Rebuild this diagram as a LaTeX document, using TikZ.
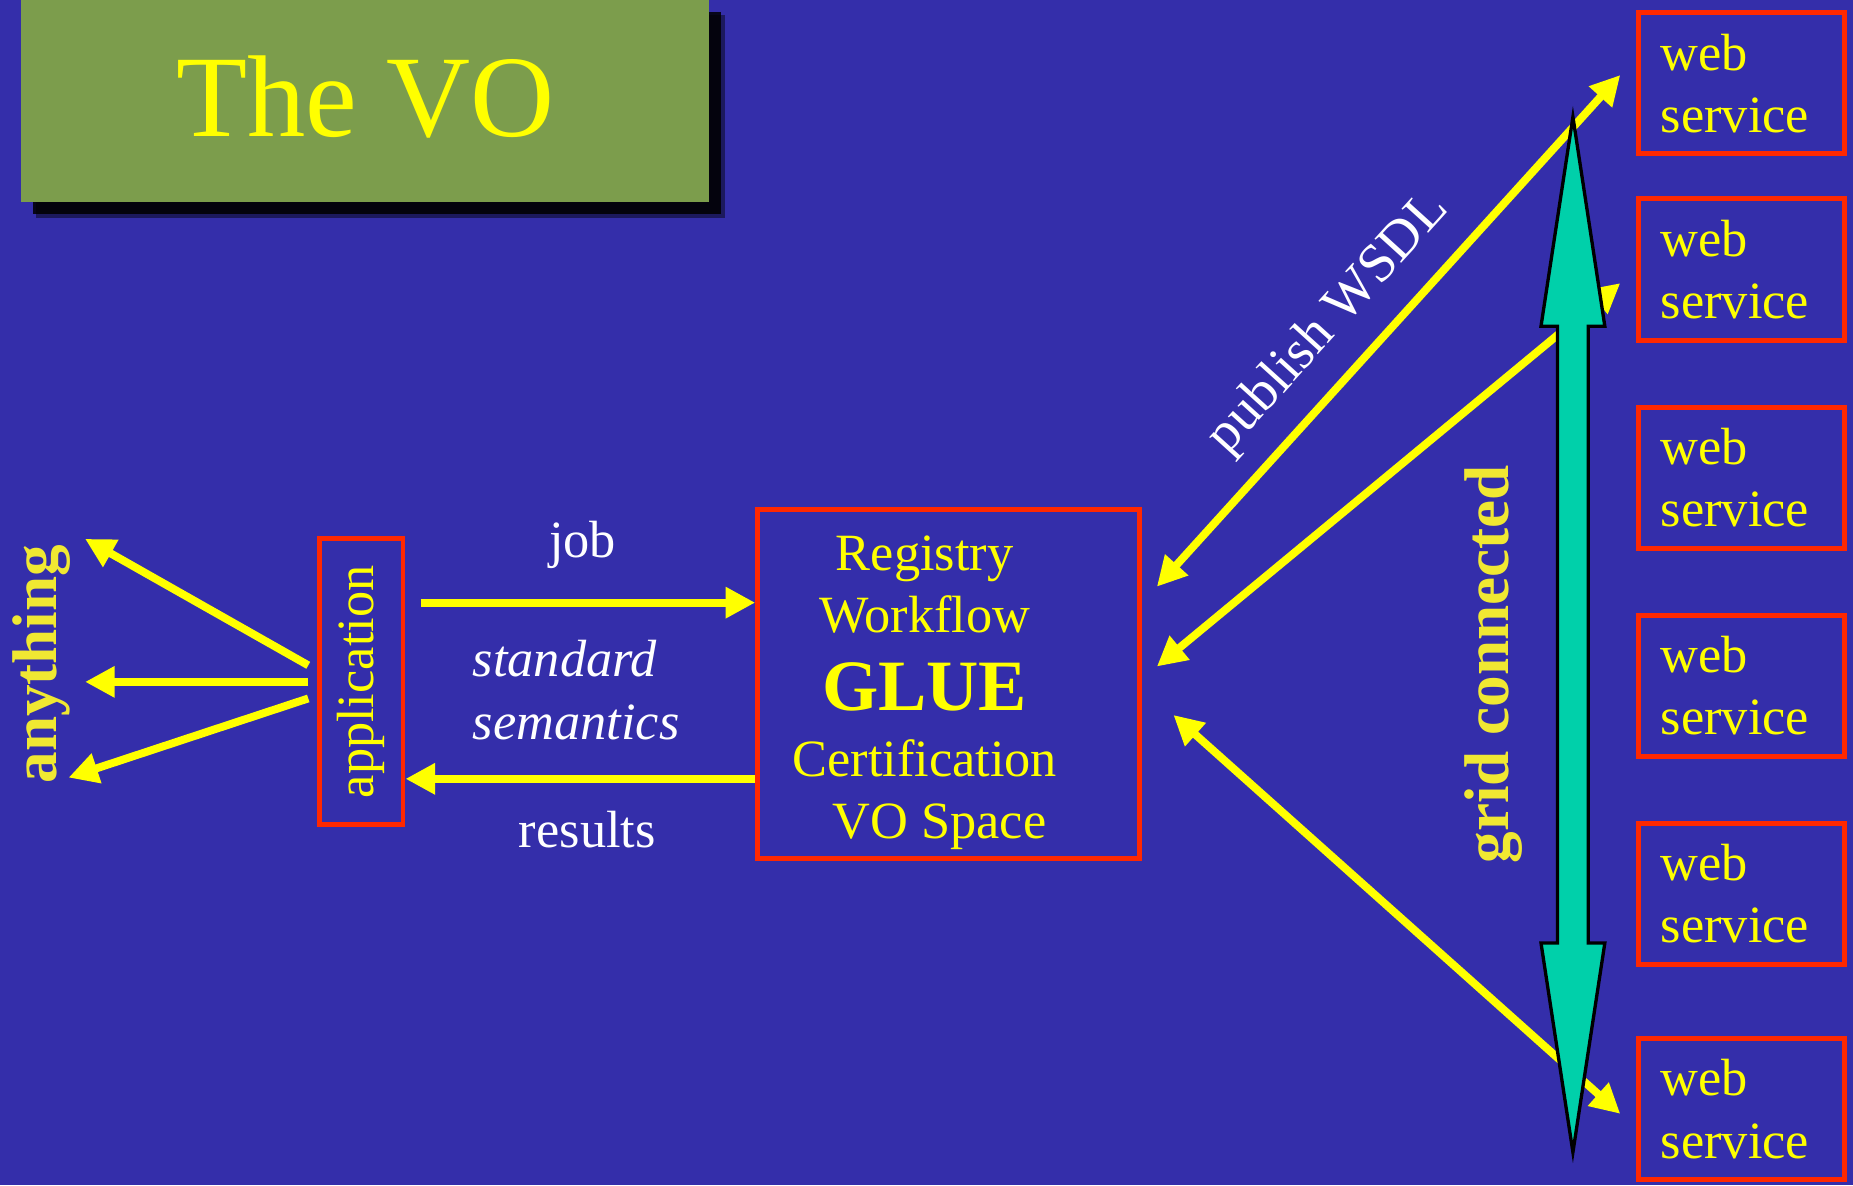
\documentclass[tikz,border=0pt]{standalone}
\usepackage{fontspec}
\setmainfont{Liberation Serif}
\usetikzlibrary{arrows.meta,positioning,shadows}

\definecolor{slideblue}{RGB}{52,46,170}
\definecolor{titlegreen}{RGB}{124,157,76}
\definecolor{boxred}{RGB}{255,40,0}
\definecolor{glueyellow}{RGB}{255,255,0}
\definecolor{paleyellow}{RGB}{240,232,50}
\definecolor{gridgreen}{RGB}{0,208,170}

\begin{document}
\begin{tikzpicture}[x=0.01cm, y=-0.01cm, node distance=1.76cm]

% definitions
\tikzstyle{titlebox} = [rectangle, minimum width=5.82cm, minimum height=1.71cm, fill=titlegreen, text=glueyellow, text depth=0.09cm, font=\fontsize{28}{34}\selectfont, drop shadow={shadow xshift=0.13cm, shadow yshift=-0.13cm, fill=black, opacity=0.45}, drop shadow={shadow xshift=0.1cm, shadow yshift=-0.1cm, fill=black, opacity=0.85}]

\tikzstyle{service} = [rectangle, minimum width=1.745cm, minimum height=1.195cm, draw=boxred, line width=1.2pt, text=glueyellow, text width=1.36cm, align=left, font=\fontsize{12.6}{15}\selectfont]

\tikzstyle{appbox} = [rectangle, minimum width=0.71cm, minimum height=2.42cm, draw=boxred, line width=1.2pt, text=glueyellow, font=\fontsize{12.6}{15}\selectfont]

\tikzstyle{gluebox} = [rectangle, minimum width=3.225cm, minimum height=2.955cm, inner sep=0pt, draw=boxred, line width=1.2pt, text=glueyellow, font=\fontsize{12.6}{15}\selectfont]

\tikzstyle{msgtext} = [text=white, inner sep=0pt, font=\fontsize{12.6}{15}\selectfont]

\tikzstyle{sidetext} = [text=paleyellow, inner sep=0pt, rotate=90, font=\fontsize{15.2}{18}\selectfont\bfseries]

\tikzstyle{arrow} = [-{Triangle[length=0.25cm, width=0.25cm]}, line width=1.9pt, draw=glueyellow]

\tikzstyle{biarrow} = [{Triangle[length=0.25cm, width=0.25cm]}-{Triangle[length=0.25cm, width=0.25cm]}, line width=1.9pt, draw=glueyellow]

\tikzstyle{gridarrow} = [fill=gridgreen, draw=black, line width=0.8pt, line join=miter]

% the slide
\fill [slideblue] (0,0) rectangle (1568,1003);
\useasboundingbox (0,0) rectangle (1568,1003);

% the graph
\node (title) [titlebox] at (309,85.5) {The VO};

\node (ws1) [service] at (1473.5,70.5) {web\\service};

\node (ws2) [service, below of=ws1, yshift=0.185cm] {web\\service};

\node (ws3) [service, below of=ws2] {web\\service};

\node (ws4) [service, below of=ws3] {web\\service};

\node (ws5) [service, below of=ws4] {web\\service};

\node (ws6) [service, below of=ws5, yshift=-0.06cm] {web\\service};

\node (app) [appbox] at (305.5,577) {\rotatebox{90}{application}};

\node (glue) [gluebox] at (802.5,579) {\begin{tabular}{@{}c@{}}\rule{0pt}{0.5cm}Registry\\Workflow\\[0.09cm]{\fontsize{17.4}{20}\selectfont\bfseries GLUE}\\[0.03cm]Certification\\\hspace*{0.25cm}VO Space\end{tabular}\hspace*{0.4cm}};

\node (anything) [sidetext] at (35,562) {anything};

\node (grid) [sidetext] at (1264,562) {grid connected};

\node (joblbl) [msgtext, anchor=base] at (493,472) {job};

\node (semlbl) [msgtext, align=left, font=\fontsize{12.6}{15}\selectfont\itshape] at (487.5,584) {standard\\semantics};

\node (reslbl) [msgtext, anchor=base] at (497,717) {results};

\coordinate (any1) at (72,456);
\coordinate (any2) at (72,577);
\coordinate (any3) at (58,658);

\coordinate (jobtail) at ([xshift=0.13cm, yshift=0.67cm]app.east);
\coordinate (restail) at ([yshift=-0.8cm]glue.west);

\draw [arrow] ([xshift=-0.07cm, yshift=0.14cm]app.west) -- (any1);
\draw [arrow] ([xshift=-0.07cm]app.west) -- (any2);
\draw [arrow] ([xshift=-0.07cm, yshift=-0.14cm]app.west) -- (any3);

\draw [arrow] (jobtail) -- (jobtail -| glue.west);
\draw [arrow] (restail) -- (restail -| app.east);

\draw [biarrow] ([xshift=0.13cm, yshift=0.825cm]glue.east) -- node [msgtext, pos=0.45, sloped, above=0.17cm, font=\fontsize{13.2}{16}\selectfont] {publish WSDL} ([xshift=-0.13cm, yshift=0.07cm]ws1.west);
\draw [biarrow] ([xshift=0.13cm, yshift=0.15cm]glue.east) -- ([xshift=-0.13cm, yshift=-0.115cm]ws2.west);
\draw [biarrow] ([xshift=0.27cm, yshift=-0.26cm]glue.east) -- ([xshift=-0.13cm, yshift=-0.04cm]ws6.west);

\draw [gridarrow] (1331,99) -- (1358,276) -- (1344,276) -- (1344,798) -- (1358,798) -- (1331,975) -- (1304,798) -- (1318,798) -- (1318,276) -- (1304,276) -- cycle;

\end{tikzpicture}
\end{document}
